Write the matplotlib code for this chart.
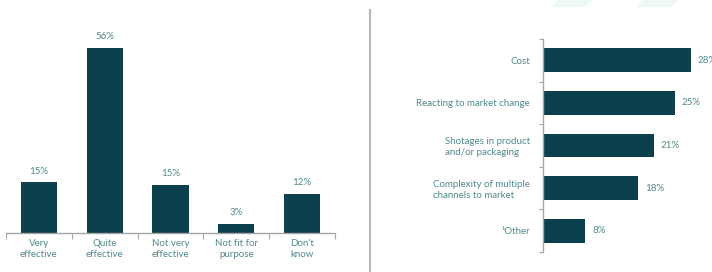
import matplotlib
matplotlib.use('Agg')
import matplotlib.pyplot as plt
from matplotlib.lines import Line2D
from matplotlib.patches import Polygon

# left chart: how effective
eff_cats = ['Very\neffective', 'Quite\neffective', 'Not very\neffective', 'Not fit for\npurpose', "Don't\nknow"]
eff_vals = [15.4, 56, 14.6, 2.7, 11.8]
eff_labels = ['15%', '56%', '15%', '3%', '12%']

# right chart: challenges
ch_cats = ['Cost', 'Reacting to market change', 'Shotages in product\nand/or packaging',
           'Complexity of multiple\nchannels to market', '\u00b9Other']
ch_vals = [28, 25, 21, 18, 8]
ch_labels = ['28%', '25%', '21%', '18%', '8%']

bar_c = '#0c404c'
txt_c = '#4f8a8c'
axis_c = '#a6a6a6'

plt.rcParams['font.family'] = ['Lato', 'DejaVu Sans']
plt.rcParams['font.size'] = 7

W, H = 712, 272
fig = plt.figure(figsize=(W / 100, H / 100), dpi=100)

# faint watermark stripes at top
for x0 in (558, 643):
    fig.add_artist(Polygon([[x0 / W, 1], [(x0 + 35) / W, 1], [(x0 + 28) / W, 1 - 7 / H], [(x0 - 7) / W, 1 - 7 / H]],
                           closed=True, transform=fig.transFigure, color='#eef9f6', lw=0))

# ---- left
ax1 = fig.add_axes([6 / W, (H - 233) / H, 329 / W, 200 / H])
x = range(len(eff_cats))
ax1.bar(x, eff_vals, width=0.55, color=bar_c)
ax1.set_xlim(-0.5, len(eff_cats) - 0.5)
ax1.set_ylim(0, 56 * 200 / 185)
for s in ('top', 'right', 'left'):
    ax1.spines[s].set_visible(False)
ax1.spines['bottom'].set_color(axis_c)
ax1.spines['bottom'].set_linewidth(1)
ax1.set_yticks([])
ax1.set_xticks([i - 0.5 for i in range(len(eff_cats) + 1)])
ax1.set_xticklabels([])
ax1.tick_params(axis='x', which='major', direction='out', length=4, color=axis_c)
ax1.set_xticks(list(x), minor=True)
ax1.set_xticklabels(eff_cats, minor=True, color=txt_c, linespacing=1.3)
ax1.tick_params(axis='x', which='minor', length=0, pad=4)
for i, (v, lab) in enumerate(zip(eff_vals, eff_labels)):
    ax1.annotate(lab, (i, v), xytext=(0, 8), textcoords='offset points',
                 ha='center', va='center', color=txt_c)

# separator
fig.add_artist(Line2D([370 / W, 370 / W], [0, (H - 10) / H], color='#b8b8b8', lw=1.5))

# ---- right
ax2 = fig.add_axes([543 / W, (H - 252) / H, 169 / W, 213 / H])
y = range(len(ch_cats))
ax2.barh(y, ch_vals, height=0.56, color=bar_c)
ax2.set_ylim(len(ch_cats) - 0.5, -0.5)
ax2.set_xlim(0, 169 / 5.28)
for s in ('top', 'right', 'bottom'):
    ax2.spines[s].set_visible(False)
ax2.spines['left'].set_color(axis_c)
ax2.spines['left'].set_linewidth(1)
ax2.set_xticks([])
ax2.set_yticks([i - 0.5 for i in range(len(ch_cats) + 1)])
ax2.set_yticklabels([])
ax2.tick_params(axis='y', which='major', direction='out', length=3, color=axis_c)
ax2.set_yticks(list(y), minor=True)
ax2.set_yticklabels(ch_cats, minor=True, color=txt_c, linespacing=1.25)
ax2.tick_params(axis='y', which='minor', length=0, pad=9.5)
for t in ax2.get_yticklabels(minor=True):
    t.set_multialignment('left')
for i, (v, lab) in enumerate(zip(ch_vals, ch_labels)):
    ax2.annotate(lab, (v, i), xytext=(5, 0), textcoords='offset points',
                 ha='left', va='center', color=txt_c, annotation_clip=False)

fig.savefig('out.png', dpi=100)
